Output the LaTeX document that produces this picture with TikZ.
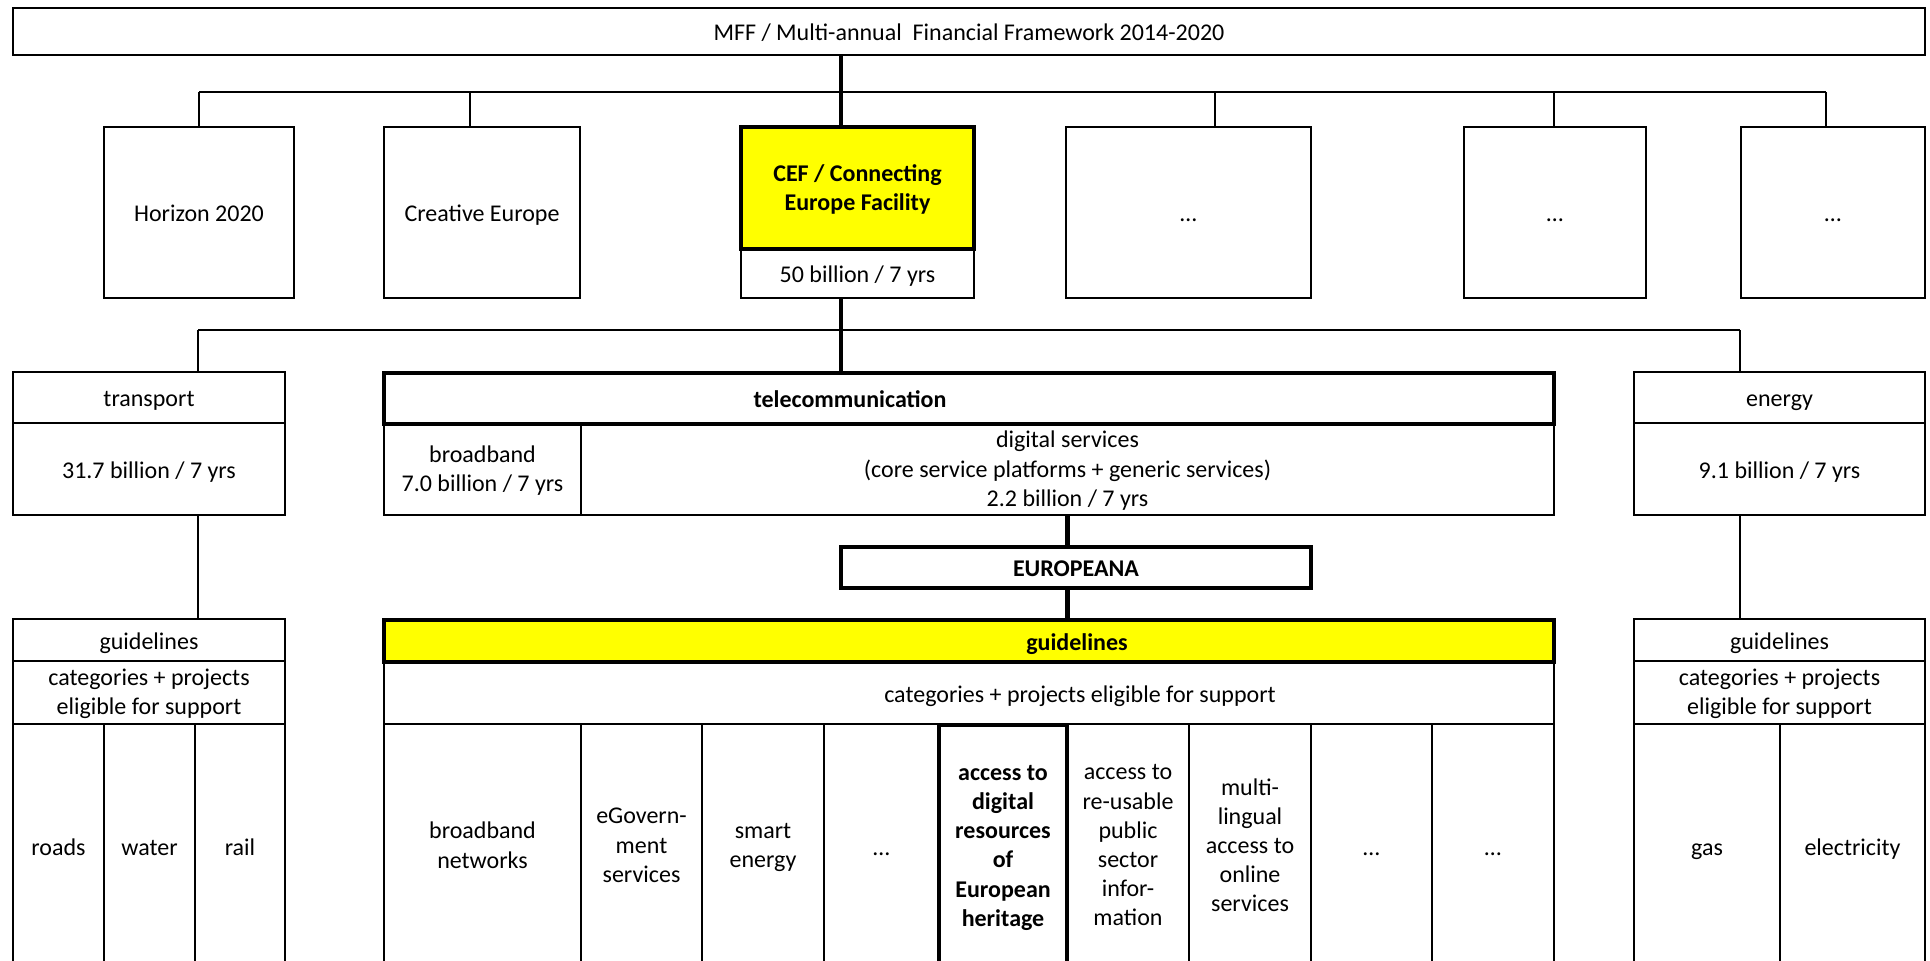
\documentclass[tikz,border=0pt]{standalone}
\usepackage{fontspec}
\setmainfont{Carlito}
\usetikzlibrary{fit}
\definecolor{yel}{HTML}{FFFF00}
\begin{document}
\begin{tikzpicture}[x=0.5pt,y=-0.5pt,
  txtfont/.style={font=\fontsize{12}{14.6}\selectfont},
  boldfont/.style={font=\fontsize{12}{14.6}\selectfont\bfseries},
  thinbox/.style={draw=black, line width=1pt, inner sep=0pt},
  thickbox/.style={thinbox, line width=2.25pt},
  yelbox/.style={thickbox, fill=yel},
  txt/.style={inner sep=0pt, align=center, txtfont, yshift=-1.8pt, execute at begin node=\strut, execute at end node=\strut},
  btxt/.style={txt, boldfont},
  ln/.style={line width=1pt},
  tk/.style={line width=2.25pt}]
\useasboundingbox (0,0) rectangle (1930,960);
\clip (0,0) rectangle (1930,960);
\fill[white] (0,0) rectangle (1930,960);

% ---------- top level ----------
\node[thinbox, fit={(13,8)(1925,55)}] (mff) {};
\node[txt] (mfflbl) at (mff.center) {MFF / Multi-annual\ \ Financial Framework 2014-2020};

\node[thinbox, fit={(104,127)(294,298)}] (horizon) {};
\node[txt] (horizonlbl) at (horizon.center) {Horizon 2020};
\node[thinbox, fit={(384,127)(580,298)}] (creative) {};
\node[txt] (creativelbl) at (creative.center) {Creative Europe};
\node[thinbox, fit={(741,249)(974,298)}] (cefbud) {};
\node[txt] (cefbudlbl) at (cefbud.center) {50 billion / 7 yrs};
\node[yelbox, fit={(741,127)(974,249)}] (cef) {};
\node[btxt] (ceflbl) at (cef.center) {CEF / Connecting\\Europe Facility};
\node[thinbox, fit={(1066,127)(1311,298)}] (other1) {};
\node[txt] (other1lbl) at (other1.center) {…};
\node[thinbox, fit={(1464,127)(1646,298)}] (other2) {};
\node[txt] (other2lbl) at (other2.center) {…};
\node[thinbox, fit={(1741,127)(1925,298)}] (other3) {};
\node[txt] (other3lbl) at (other3.center) {…};

% bus 1
\coordinate (d1) at (199,92);
\coordinate (d2) at (470,92);
\coordinate (d4) at (1215,92);
\coordinate (d5) at (1554,92);
\coordinate (d6) at (1826,92);
\coordinate (tr) at (841,0);
\draw[ln] (d1) -- (d6);
\draw[ln] (d1) -- (horizon.north -| d1);
\draw[ln] (d2) -- (creative.north -| d2);
\draw[ln] (d4) -- (other1.north -| d4);
\draw[ln] (d5) -- (other2.north -| d5);
\draw[ln] (d6) -- (other3.north -| d6);
\draw[tk] (mff.south -| tr) -- (cef.north -| tr);

% ---------- second level ----------
\node[thinbox, fit={(13,372)(285,423)}] (transport) {};
\node[txt] (transportlbl) at (transport.center) {transport};
\node[thinbox, fit={(13,423)(285,515)}] (transbud) {};
\node[txt] (transbudlbl) at (transbud.center) {31.7 billion / 7 yrs};
\node[thinbox, fit={(1634,372)(1925,423)}] (energy) {};
\node[txt] (energylbl) at (energy.center) {energy};
\node[thinbox, fit={(1634,423)(1925,515)}] (energybud) {};
\node[txt] (energybudlbl) at (energybud.center) {9.1 billion / 7 yrs};

\node[thinbox, fit={(384,424)(581,515)}] (bb) {};
\node[txt] (bblbl) at (bb.center) {broadband\\7.0 billion / 7 yrs};
\node[thinbox, fit={(581,424)(1554,515)}] (digital) {};
\node[txt] (digitallbl) at (digital.center) {digital services\\(core service platforms + generic services)\\2.2 billion / 7 yrs};
\node[thickbox, fit={(384,373)(1554,424)}] (telecom) {};
\node[btxt] (telecomlbl) at (850,398.5) {telecommunication};

\coordinate (e1) at (198,330);
\coordinate (e2) at (1740,330);
\draw[ln] (e1) -- (e2);
\draw[ln] (e1) -- (transport.north -| e1);
\draw[ln] (e2) -- (energy.north -| e2);
\draw[tk] (cefbud.south -| tr) -- (telecom.north -| tr);

% ---------- Europeana ----------
\node[thickbox, fit={(841,547)(1311,588)}] (euro) {};
\node[btxt] (eurolbl) at (euro.center) {EUROPEANA};

% ---------- guidelines (left) ----------
\node[thinbox, fit={(13,619)(285,661)}] (lguide) {};
\node[txt] (lguidelbl) at (lguide.center) {guidelines};
\node[thinbox, fit={(13,661)(285,724)}] (lcats) {};
\node[txt] (lcatslbl) at (lcats.center) {categories + projects\\eligible for support};
\node[thinbox, fit={(13,724)(104,968)}] (roads) {};
\node[txt] (roadslbl) at (roads.center) {roads};
\node[thinbox, fit={(104,724)(195,968)}] (water) {};
\node[txt] (waterlbl) at (water.center) {water};
\node[thinbox, fit={(195,724)(285,968)}] (rail) {};
\node[txt] (raillbl) at (rail.center) {rail};
\draw[ln] (transbud.south -| e1) -- (lguide.north -| e1);

% ---------- guidelines (right) ----------
\node[thinbox, fit={(1634,619)(1925,661)}] (rguide) {};
\node[txt] (rguidelbl) at (rguide.center) {guidelines};
\node[thinbox, fit={(1634,661)(1925,724)}] (rcats) {};
\node[txt] (rcatslbl) at (rcats.center) {categories + projects\\eligible for support};
\node[thinbox, fit={(1634,724)(1780,968)}] (gas) {};
\node[txt] (gaslbl) at (gas.center) {gas};
\node[thinbox, fit={(1780,724)(1925,968)}] (elec) {};
\node[txt] (eleclbl) at (elec.center) {electricity};
\draw[ln] (energybud.south -| e2) -- (rguide.north -| e2);

% ---------- guidelines (telecom) ----------
\node[thinbox, fit={(384,662)(1554,724)}] (cats) {};
\node[txt] (catslbl) at (1080,693) {categories + projects eligible for support};
\node[thinbox, fit={(384,724)(581,968)}] (c1) {};
\node[txt] (c1lbl) at (c1.center) {broadband\\networks};
\node[thinbox, fit={(581,724)(702,968)}] (c2) {};
\node[txt] (c2lbl) at (c2.center) {eGovern-\\ment\\services};
\node[thinbox, fit={(702,724)(824,968)}] (c3) {};
\node[txt] (c3lbl) at (c3.center) {smart\\energy};
\node[thinbox, fit={(824,724)(939,968)}] (c4) {};
\node[txt] (c4lbl) at (c4.center) {…};
\node[thinbox, fit={(1067,724)(1189,968)}] (c6) {};
\node[txt] (c6lbl) at (c6.center) {access to\\re-usable\\public\\sector\\infor-\\mation};
\node[thinbox, fit={(1189,724)(1311,968)}] (c7) {};
\node[txt] (c7lbl) at (c7.center) {multi-\\lingual\\access to\\online\\services};
\node[thinbox, fit={(1311,724)(1432,968)}] (c8) {};
\node[txt] (c8lbl) at (c8.center) {…};
\node[thinbox, fit={(1432,724)(1554,968)}] (c9) {};
\node[txt] (c9lbl) at (c9.center) {…};
\node[thickbox, fit={(939,725)(1067,968)}] (c5) {};
\node[btxt] (c5lbl) at (c5.center) {access to\\digital\\resources\\of\\European\\heritage};
\node[yelbox, fit={(384,620)(1554,662)}] (guide) {};
\node[btxt] (guidelbl) at (1077,641) {guidelines};

\draw[tk] (digital.south) -- (euro.north -| digital.south);
\draw[tk] (euro.south -| digital.south) -- (guide.north -| digital.south);
\end{tikzpicture}
\end{document}
